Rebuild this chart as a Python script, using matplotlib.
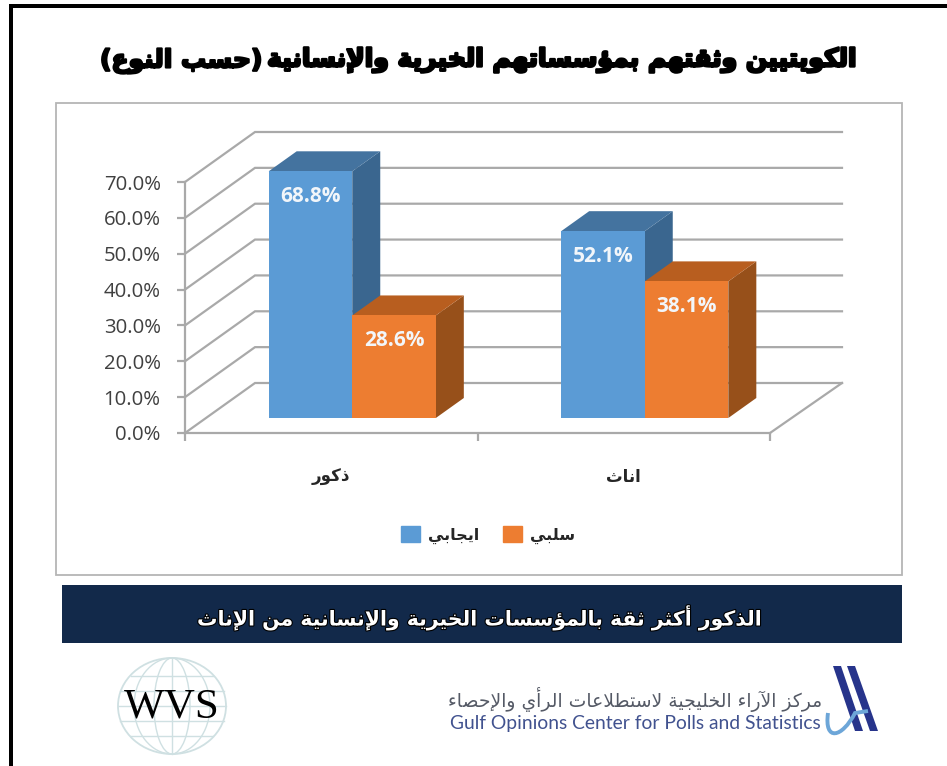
import matplotlib
matplotlib.use("Agg")
import matplotlib.pyplot as plt
import matplotlib.patheffects as pe
from matplotlib.patches import Ellipse, Patch, Polygon, Rectangle, PathPatch
from matplotlib.path import Path

W, H = 947, 766

title = "الكويتيين وثقتهم بمؤسساتهم الخيرية والإنسانية"
title_sub = "(حسب النوع)"
banner = "الذكور أكثر ثقة بالمؤسسات الخيرية والإنسانية من الإناث"
center_ar = "مركز الآراء الخليجية لاستطلاعات الرأي والإحصاء"
center_en = "Gulf Opinions Center for Polls and Statistics"

categories = ["ذكور", "اناث"]
series_names = ["ايجابي", "سلبي"]
positive = [68.8, 52.1]
negative = [28.6, 38.1]
y_ticks = [0, 10, 20, 30, 40, 50, 60, 70]

blue = ("#5b9bd5", "#44739f", "#3a668f")
orange = ("#ed7d31", "#b85e1f", "#97501a")
grid_col = "#a9a9a9"

# matplotlib does no arabic shaping, so pick the presentation forms by hand
forms = {
    "ء": (0xFE80, 1), "آ": (0xFE81, 2), "أ": (0xFE83, 2), "ؤ": (0xFE85, 2),
    "إ": (0xFE87, 2), "ئ": (0xFE89, 4), "ا": (0xFE8D, 2), "ب": (0xFE8F, 4),
    "ة": (0xFE93, 2), "ت": (0xFE95, 4), "ث": (0xFE99, 4), "ج": (0xFE9D, 4),
    "ح": (0xFEA1, 4), "خ": (0xFEA5, 4), "د": (0xFEA9, 2), "ذ": (0xFEAB, 2),
    "ر": (0xFEAD, 2), "ز": (0xFEAF, 2), "س": (0xFEB1, 4), "ش": (0xFEB5, 4),
    "ص": (0xFEB9, 4), "ض": (0xFEBD, 4), "ط": (0xFEC1, 4), "ظ": (0xFEC5, 4),
    "ع": (0xFEC9, 4), "غ": (0xFECD, 4), "ف": (0xFED1, 4), "ق": (0xFED5, 4),
    "ك": (0xFED9, 4), "ل": (0xFEDD, 4), "م": (0xFEE1, 4), "ن": (0xFEE5, 4),
    "ه": (0xFEE9, 4), "و": (0xFEED, 2), "ى": (0xFEEF, 2), "ي": (0xFEF1, 4),
}
lam_alef = {"ا": 0xFEFB, "أ": 0xFEF7, "إ": 0xFEF9, "آ": 0xFEF5}


def ar(text):
    out = []
    i = 0
    prev_joins = False
    while i < len(text):
        c = text[i]
        if c not in forms:
            out.append({"(": ")", ")": "("}.get(c, c))
            prev_joins = False
            i += 1
            continue
        if c == "ل" and i + 1 < len(text) and text[i + 1] in lam_alef:
            out.append(chr(lam_alef[text[i + 1]] + (1 if prev_joins else 0)))
            prev_joins = False
            i += 2
            continue
        base, n = forms[c]
        next_is_letter = i + 1 < len(text) and text[i + 1] in forms
        joins_next = n == 4 and next_is_letter
        if prev_joins and joins_next:
            code = base + 3
        elif prev_joins:
            code = base + 1
        elif joins_next:
            code = base + 2
        else:
            code = base
        out.append(chr(code))
        prev_joins = joins_next
        i += 1
    return "".join(reversed(out))


fig = plt.figure(figsize=(W / 100, H / 100), dpi=100, facecolor="white")

# page furniture, in pixel coordinates
bg = fig.add_axes([0, 0, 1, 1])
bg.set_xlim(0, W)
bg.set_ylim(H, 0)
bg.axis("off")

bg.add_patch(Rectangle((9, 4), 4, H, color="black", lw=0))
bg.add_patch(Rectangle((9, 4), W, 4, color="black", lw=0))
bg.add_patch(Rectangle((55.5, 102.5), 846, 472, fc="white", ec="#b5b5b5", lw=1.3))
bg.add_patch(Rectangle((62, 585), 840, 58, color="#12294a", lw=0))

bg.text(858, 60, ar(title), ha="right", va="center", fontsize=18, fontweight="bold",
        color="black", family="DejaVu Sans",
        path_effects=[pe.withStroke(linewidth=1.8, foreground="black")])
bg.text(100, 61, ar(title_sub), ha="left", va="center", fontsize=18, fontweight="bold",
        color="black", family="DejaVu Sans",
        path_effects=[pe.withStroke(linewidth=1.6, foreground="black")])
bg.text(480, 618, ar(banner), ha="center", va="center", fontsize=14.7, fontweight="bold",
        color="white", family="DejaVu Sans",
        path_effects=[pe.withStroke(linewidth=1.6, foreground="black")])

# WVS globe
globe = "#cfe0e2"
bg.add_patch(Ellipse((172, 706), 108, 96, fc="none", ec=globe, lw=1.3))
for w in (36, 76):
    bg.add_patch(Ellipse((172, 706), w, 96, fc="none", ec=globe, lw=1))
bg.plot([172, 172], [658, 754], color=globe, lw=1)
for y, half in [(676, 41), (691, 52), (706, 54), (721, 52), (736, 41)]:
    bg.plot([172 - half, 172 + half], [y, y], color=globe, lw=1)
bg.text(172, 707, "WVS", ha="center", va="center", fontsize=31, color="black",
        family="Liberation Serif")

# gulf opinions center logo
bg.text(822, 699, ar(center_ar), ha="right", va="center", fontsize=13.5, color="#555a66",
        family="DejaVu Sans")
bg.text(821, 724, center_en, ha="right", va="center", fontsize=13.85, color="#41528f",
        family="Lato")
navy = "#27348b"
bg.add_patch(Polygon([(833, 666), (841, 666), (863, 731), (855, 731)], color=navy, lw=0))
bg.add_patch(Polygon([(847, 666), (855, 666), (878, 731), (870, 731)], color=navy, lw=0))
wave = Path([(828, 713), (824, 742), (842, 738), (855, 713), (868, 711)],
            [Path.MOVETO, Path.CURVE4, Path.CURVE4, Path.CURVE4, Path.LINETO])
bg.add_patch(PathPatch(wave, fc="none", ec="#6da6d8", lw=2.8))

# chart, the axes is the front plane of the 3d box
x0, x1, y0, y1 = 185, 770, 433, 182
ax = fig.add_axes([x0 / W, 1 - y0 / H, (x1 - x0) / W, (y0 - y1) / H])
ax.patch.set_alpha(0)
ax.set_xlim(0, 2)
ax.set_ylim(0, 70)
px_x = 2 / (x1 - x0)
px_y = 70 / (y0 - y1)

wall_dx, wall_dy = 70 * px_x, 50 * px_y
right_end = 2 + 72 * px_x
for v in y_ticks:
    ax.plot([0, wall_dx, right_end], [v, v + wall_dy, v + wall_dy], color=grid_col, lw=1.6,
            clip_on=False, zorder=1, solid_joinstyle="miter")
ax.plot([2, right_end], [0, wall_dy], color=grid_col, lw=1.6, clip_on=False, zorder=1)

bar_w = 1 / 3.5
floor_dx, floor_dy = 21 * px_x, 15 * px_y
depth_dx, depth_dy = 28 * px_x, 20 * px_y
for k, (vals, cols) in enumerate([(positive, blue), (negative, orange)]):
    for i, v in enumerate(vals):
        left = i + 0.5 - bar_w + k * bar_w + floor_dx
        right = left + bar_w
        base = floor_dy
        top = base + v
        z = 3 + i * 3 + k * 3
        ax.add_patch(Polygon([(right, base), (right + depth_dx, base + depth_dy),
                              (right + depth_dx, top + depth_dy), (right, top)],
                             color=cols[2], lw=0, clip_on=False, zorder=z))
        ax.add_patch(Polygon([(left, top), (right, top), (right + depth_dx, top + depth_dy),
                              (left + depth_dx, top + depth_dy)],
                             color=cols[1], lw=0, clip_on=False, zorder=z))
        ax.bar(left, v, bar_w, bottom=base, align="edge", color=cols[0], clip_on=False,
               zorder=z + 1)
        ax.annotate(f"{v:.1f}%", (left + bar_w / 2, top), xytext=(0, -18), textcoords="offset points",
                    ha="center", va="center", fontsize=15, fontweight="bold", color="#f2f6fa",
                    family="Open Sans", zorder=20, annotation_clip=False)

ax.spines["top"].set_visible(False)
ax.spines["right"].set_visible(False)
ax.spines["left"].set_color(grid_col)
ax.spines["bottom"].set_color(grid_col)
ax.spines["left"].set_linewidth(1.6)
ax.spines["bottom"].set_linewidth(1.6)

ax.set_yticks(y_ticks)
ax.set_yticklabels([f"{v:.1f}%" for v in y_ticks], fontsize=14.7, color="#404040", family="Open Sans")
ax.set_xticks([0, 1, 2])
ax.set_xticklabels([])
ax.tick_params(axis="both", color=grid_col, width=1.6, length=5.5)
ax.tick_params(axis="y", pad=12)
ax.set_xticks([0.5, 1.5], [ar(c) for c in categories], minor=True, fontsize=12, fontweight="bold",
              family="DejaVu Sans", color="#262626")
ax.tick_params(axis="x", which="minor", length=0, pad=25)

handles = [Patch(color=blue[0], label=ar(series_names[0])), Patch(color=orange[0], label=ar(series_names[1]))]
fig.legend(handles=handles, loc="center", bbox_to_anchor=(488 / W, 1 - 535 / H), ncol=2, frameon=False,
           handlelength=1.2, handleheight=1.15, columnspacing=1.5, handletextpad=0.5,
           prop={"family": "DejaVu Sans", "weight": "bold", "size": 11.5}, labelcolor="#262626")

fig.savefig("out.png", dpi=100)
